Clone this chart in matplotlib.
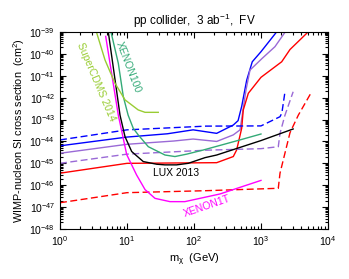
import numpy as np
import matplotlib
matplotlib.use("Agg")
import matplotlib.pyplot as plt
from matplotlib.ticker import LogLocator, NullFormatter, FixedLocator

plt.rcParams['font.family'] = ['Liberation Sans', 'DejaVu Sans']
plt.rcParams['mathtext.fontset'] = 'custom'
plt.rcParams['mathtext.rm'] = 'Liberation Sans'
plt.rcParams['mathtext.it'] = 'Liberation Sans:italic'
plt.rcParams['mathtext.default'] = 'regular'

# collider reach (solid / dashed), log10 of cross section
blue_m = [1, 10, 40, 97, 218, 386, 455, 515, 612, 741, 1000, 1812]
blue_s = [-44.2, -43.8, -43.65, -43.47, -43.63, -43.25, -43.05, -42.4, -41.2, -40.36, -39.9, -38.9]
purple_m = [1, 10, 50, 97, 218, 386, 487, 597, 685, 1045, 1617, 2420]
purple_s = [-44.54, -44.13, -43.98, -43.89, -44.0, -43.7, -43.47, -41.65, -40.74, -40.2, -39.67, -38.9]
red_m = [1, 10, 218, 386, 433, 515, 544, 647, 1000, 2037, 2710, 5080]
red_s = [-45.45, -45.0, -44.97, -44.69, -44.39, -43.4, -42.56, -41.8, -41.07, -40.36, -39.8, -38.99]

blue_d_m = [1, 10, 150, 1000, 1922, 2050, 2280]
blue_d_s = [-43.93, -43.47, -43.3, -43.29, -42.87, -42.7, -41.73]
purple_d_m = [1, 10, 150, 1000, 1812, 1922, 2280, 3020]
purple_d_s = [-45.0, -44.58, -44.4, -44.33, -44.24, -43.63, -42.8, -41.73]
red_d_m = [1, 10, 150, 1812, 1922, 2710, 3605, 5710]
red_d_s = [-46.8, -46.34, -46.25, -46.14, -45.45, -43.6, -42.8, -41.73]

# direct detection limits
lux_m = [5.26, 7.87, 9.34, 11.75, 17.5, 27.7, 36.8, 55, 82, 146, 218, 1000, 3020]
lux_s = [-39.0, -42.8, -43.78, -44.46, -44.92, -45.04, -45.07, -45.07, -45.0, -44.74, -44.62, -43.96, -43.43]
x1t_m = [4.81, 7.42, 9.9, 13.9, 18.6, 26.2, 43.8, 73, 244, 1000]
x1t_s = [-39.2, -42.8, -44.6, -45.53, -46.2, -46.6, -46.75, -46.75, -46.4, -45.78]
x100_m = [5.77, 7.42, 8.81, 10.4, 12.4, 14.7, 20.8, 36.9, 52, 77.8, 138, 486, 1000]
x100_s = [-39.0, -40.43, -41.95, -42.8, -43.4, -43.7, -44.24, -44.62, -44.69, -44.58, -44.39, -43.93, -43.66]
cdms_m = [3.5, 4.7, 6.62, 9.34, 14.7, 18.6, 29.3]
cdms_s = [-39.0, -40.28, -41.34, -42.1, -42.56, -42.67, -42.67]

x_ticks = [1, 10, 100, 1000, 10000]
y_exps = np.arange(-48, -38)

fig = plt.figure(figsize=(3.49, 2.79), dpi=100)
ax = fig.add_axes([0.1719, 0.1792, 0.7679, 0.7061])

lw = 1.0
dash = (0, (5, 2.5))
ax.plot(blue_m, 10.0 ** np.array(blue_s), color='#0000ff', lw=lw)
ax.plot(purple_m, 10.0 ** np.array(purple_s), color='#9a6ad6', lw=lw)
ax.plot(red_m, 10.0 ** np.array(red_s), color='#ff0000', lw=lw)
ax.plot(blue_d_m, 10.0 ** np.array(blue_d_s), color='#0000ff', lw=lw, ls=dash)
ax.plot(purple_d_m, 10.0 ** np.array(purple_d_s), color='#9a6ad6', lw=lw, ls=dash)
ax.plot(red_d_m, 10.0 ** np.array(red_d_s), color='#ff0000', lw=lw, ls=dash)

ax.plot(lux_m, 10.0 ** np.array(lux_s), color='black', lw=lw)
ax.plot(x1t_m, 10.0 ** np.array(x1t_s), color='#ff00ff', lw=lw)
ax.plot(x100_m, 10.0 ** np.array(x100_s), color='#33aa77', lw=lw)
ax.plot(cdms_m, 10.0 ** np.array(cdms_s), color='#99cc33', lw=lw)

fs = 7.5
ax.text(10.5, 10 ** -40.62, 'XENON100', color='#33aa77', fontsize=fs,
        rotation=-69, ha='center', va='center', rotation_mode='anchor')
ax.text(3.45, 10 ** -41.28, 'SuperCDMS 2014', color='#99cc33', fontsize=fs,
        rotation=-67, ha='center', va='center', rotation_mode='anchor')
ax.text(24.5, 10 ** -45.45, 'LUX 2013', color='black', fontsize=fs,
        ha='left', va='center')
ax.text(156, 10 ** -46.95, 'XENON1T', color='#ff00ff', fontsize=fs,
        rotation=19, ha='center', va='center', rotation_mode='anchor')

ax.set_xscale('log')
ax.set_yscale('log')
ax.set_xlim(1, 1e4)
ax.set_ylim(1e-48, 1e-39)

ax.set_xticks(x_ticks)
ax.set_xticklabels([r'$10^{%d}$' % int(np.log10(v)) for v in x_ticks])
ax.set_yticks(10.0 ** y_exps)
ax.set_yticklabels([r'$10^{%d}$' % e for e in y_exps])
ax.xaxis.set_minor_locator(LogLocator(base=10, subs=np.arange(2, 10), numticks=100))
ax.yaxis.set_minor_locator(LogLocator(base=10, subs=np.arange(2, 10), numticks=100))
ax.xaxis.set_minor_formatter(NullFormatter())
ax.yaxis.set_minor_formatter(NullFormatter())
ax.tick_params(which='both', direction='in', top=True, right=True, labelsize=fs, width=0.8)
ax.tick_params(which='major', length=4)
ax.tick_params(which='minor', length=2)
for sp in ax.spines.values():
    sp.set_linewidth(0.8)

ax.set_xlabel(r'm$_\chi$  (GeV)', fontsize=8, labelpad=3)
ax.set_ylabel(r'WIMP-nucleon SI cross section  (cm$^2$)', fontsize=7.8, labelpad=2)
ax.set_title(r'pp collider,  3 ab$^{-1}$,  FV', fontsize=8.5, pad=5)

fig.savefig('out.png', dpi=100)
